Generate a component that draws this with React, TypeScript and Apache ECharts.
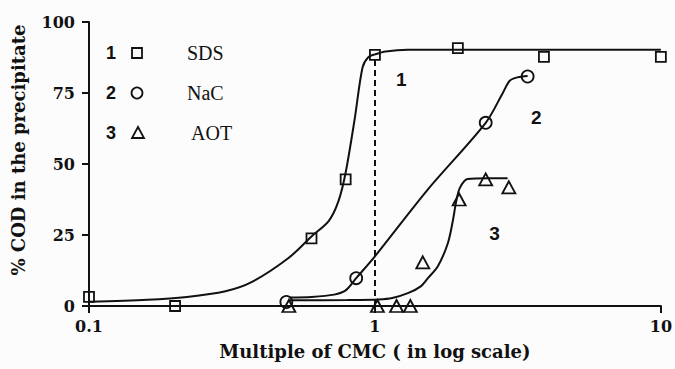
import React, { useEffect, useRef } from "react";
import * as echarts from "echarts";

// Measured points (multiple of CMC, % COD in precipitate)
const sdsX = [0.1, 0.2, 0.6, 0.79, 1.0, 1.95, 3.9, 10];
const sdsY = [3.2, 0, 23.8, 44.6, 88.4, 90.8, 87.7, 87.7];
const nacX = [0.49, 0.86, 2.44, 3.42];
const nacY = [1.4, 9.8, 64.5, 80.8];
const aotX = [0.5, 1.02, 1.19, 1.33, 1.47, 1.97, 2.44, 2.94];
const aotY = [0, 0, 0, 0, 15.4, 37.5, 44.6, 41.8];

// Fitted curves
const sdsFitX = [0.1, 0.16, 0.22, 0.3, 0.37, 0.5, 0.6, 0.69, 0.746, 0.79, 0.85, 0.905, 0.95, 1.0, 1.09, 1.3, 2, 5, 10];
const sdsFitY = [1.5, 2.2, 3.2, 5.2, 8.4, 17, 24.5, 30, 37, 47, 66, 84, 87.7, 88.6, 89.6, 90.2, 90.2, 90.2, 90.2];
const nacFitX = [0.5, 0.6, 0.72, 0.79, 0.86, 1.0, 1.53, 2.44, 2.8, 2.96, 3.15, 3.42];
const nacFitY = [3, 3.2, 4, 5.5, 9.8, 17.5, 41, 64.5, 75, 79.3, 80.5, 81];
const aotFitX = [0.5, 0.8, 1.03, 1.15, 1.31, 1.45, 1.535, 1.66, 1.8, 1.875, 1.92, 1.98, 2.11, 2.5, 2.91];
const aotFitY = [2, 2.1, 2.3, 2.8, 4.6, 7, 9.9, 14, 22.2, 30.3, 36.3, 41.5, 44.7, 45, 45];

// Curve number labels
const curveLabelNames = ["1", "2", "3"];
const curveLabelX = [1.236, 3.67, 2.62];
const curveLabelY = [79.6, 66.2, 25.7];

// Legend entries
const legendNums = ["1", "2", "3"];
const legendNames = ["SDS", "NaC", "AOT"];

const xTicks = [0.1, 1, 10];
const cmcLine = [1, 0, 87.7];

const zip = (xs: number[], ys: number[]) => xs.map((x, i) => [x, ys[i]]);

export default function App() {
  const ref = useRef<HTMLDivElement>(null);
  useEffect(() => {
    if (!ref.current) return;
    const chart = echarts.init(ref.current, null, { renderer: "svg" });
    const black = "#111";
    const serif = "'Liberation Serif', 'Times New Roman', serif";
    const wideSerif = "'DejaVu Serif', 'Liberation Serif', serif";
    const sans = "'Liberation Sans', Arial, sans-serif";
    const lineStyle = { color: black, width: 2 };
    const markerBase = {
      type: "scatter" as const,
      symbolSize: 10,
      itemStyle: { color: "rgba(0,0,0,0)", borderColor: black, borderWidth: 1.8, opacity: 1 },
      emphasis: { disabled: true },
      z: 5,
    };
    const legendY = [53, 93, 133];
    const graphic: any[] = [];
    legendNums.forEach((n, i) => {
      graphic.push({
        type: "text",
        x: 111,
        y: legendY[i],
        style: { text: n, font: `bold 18px ${sans}`, fill: black, textAlign: "center", textVerticalAlign: "middle" },
      });
      graphic.push({
        type: "text",
        x: i === 2 ? 191 : 187,
        y: legendY[i],
        style: { text: legendNames[i], font: `20px ${serif}`, fill: black, textAlign: "left", textVerticalAlign: "middle" },
      });
    });
    graphic.push({ type: "rect", shape: { x: 132, y: 48, width: 10, height: 10 }, style: { fill: "none", stroke: black, lineWidth: 1.8 } });
    graphic.push({ type: "circle", shape: { cx: 137, cy: 93, r: 5.5 }, style: { fill: "none", stroke: black, lineWidth: 1.8 } });
    graphic.push({ type: "polygon", shape: { points: [[138, 127], [132, 138], [144, 138]] }, style: { fill: "none", stroke: black, lineWidth: 1.8 } });
    graphic.push({
      type: "text",
      x: 18,
      y: 150,
      rotation: Math.PI / 2,
      style: { text: "% COD in the precipitate", font: `bold 18px ${wideSerif}`, fill: black, textAlign: "center", textVerticalAlign: "middle" },
    });

    chart.setOption({
      animation: false,
      backgroundColor: "#fcfcfc",
      grid: { left: 89, right: 12, top: 22, bottom: 63, containLabel: false },
      xAxis: {
        type: "log",
        logBase: 10,
        min: 0.1,
        max: 10,
        name: "Multiple of CMC ( in log scale)",
        nameLocation: "middle",
        nameGap: 36,
        nameTextStyle: { fontFamily: wideSerif, fontWeight: "bold", fontSize: 18, color: black },
        axisLine: { show: true, lineStyle: { color: black, width: 2 } },
        axisTick: { show: true, length: 7, lineStyle: { color: black, width: 2 } },
        minorTick: { show: false },
        splitLine: { show: false },
        axisLabel: {
          margin: 12,
          fontFamily: wideSerif,
          fontWeight: "bold",
          fontSize: 16,
          color: black,
          formatter: (v: number) => {
            const t = xTicks.find((k) => Math.abs(k - v) < 1e-9);
            return t === undefined ? "" : String(t);
          },
        },
      },
      yAxis: {
        type: "value",
        min: 0,
        max: 100,
        interval: 25,
        axisLine: { show: true, lineStyle: { color: black, width: 2 } },
        axisTick: { show: true, length: 7, lineStyle: { color: black, width: 2 } },
        splitLine: { show: false },
        axisLabel: { margin: 14, fontFamily: wideSerif, fontWeight: "bold", fontSize: 16, color: black },
      },
      graphic,
      series: [
        {
          type: "line",
          data: zip(sdsFitX, sdsFitY),
          smooth: 0.3,
          showSymbol: false,
          lineStyle,
          markLine: {
            silent: true,
            symbol: "none",
            label: { show: false },
            lineStyle: { color: black, width: 2, type: [6, 4] },
            data: [[{ coord: [cmcLine[0], cmcLine[1]] }, { coord: [cmcLine[0], cmcLine[2]] }]],
          },
        },
        { type: "line", data: zip(nacFitX, nacFitY), smooth: 0.3, showSymbol: false, lineStyle },
        { type: "line", data: zip(aotFitX, aotFitY), smooth: 0.3, showSymbol: false, lineStyle },
        { ...markerBase, symbol: "rect", symbolSize: 10, data: zip(sdsX, sdsY) },
        { ...markerBase, symbol: "circle", symbolSize: 12, data: zip(nacX, nacY) },
        { ...markerBase, symbol: "triangle", symbolSize: [13, 12], data: zip(aotX, aotY) },
        {
          type: "scatter",
          symbolSize: 1,
          itemStyle: { color: "rgba(0,0,0,0)", opacity: 1 },
          emphasis: { disabled: true },
          label: {
            show: true,
            position: "inside",
            formatter: (p: any) => p.name,
            fontFamily: sans,
            fontWeight: "bold",
            fontSize: 19,
            color: black,
            opacity: 1,
          },
          data: curveLabelNames.map((n, i) => ({ name: n, value: [curveLabelX[i], curveLabelY[i]] })),
        },
      ],
    });
    return () => chart.dispose();
  }, []);
  return <div ref={ref} style={{ position: "fixed", left: 0, top: 0, width: 675, height: 369 }} />;
}
